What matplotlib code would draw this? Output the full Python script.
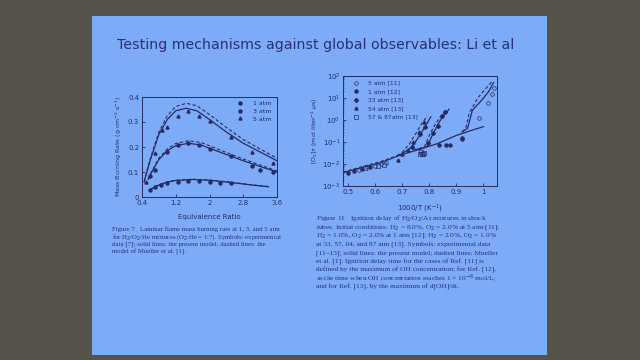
import matplotlib
matplotlib.use("Agg")
import matplotlib.pyplot as plt
from matplotlib.patches import Rectangle
from matplotlib.ticker import LogLocator

# ---- colours
BG = "#55534a"
SLIDE = "#7eabf8"
INK = "#262c62"
TXT = "#2b3170"

title = "Testing mechanisms against global observables: Li et al"

# ---- left panel: mass burning rate vs equivalence ratio
phi_1atm = [0.6, 0.7, 0.85, 1.0, 1.25, 1.5, 1.75, 2.0, 2.25, 2.5]
mbr_1atm = [0.030, 0.040, 0.050, 0.055, 0.062, 0.065, 0.065, 0.062, 0.058, 0.055]
phi_3atm = [0.6, 0.7, 1.0, 1.25, 1.5, 1.75, 2.0, 2.5, 3.0, 3.2, 3.5]
mbr_3atm = [0.085, 0.110, 0.180, 0.208, 0.215, 0.208, 0.192, 0.165, 0.125, 0.110, 0.100]
phi_5atm = [0.5, 0.7, 0.87, 1.0, 1.25, 1.5, 1.75, 2.0, 2.5, 3.0, 3.5]
mbr_5atm = [0.062, 0.177, 0.270, 0.280, 0.325, 0.345, 0.325, 0.305, 0.240, 0.180, 0.135]

phi_model = [0.45, 0.6, 0.8, 1.0, 1.2, 1.45, 1.7, 2.0, 2.4, 2.8, 3.2, 3.6]
model_5atm = [0.060, 0.150, 0.250, 0.310, 0.345, 0.355, 0.345, 0.310, 0.260, 0.215, 0.180, 0.145]
mueller_5atm = [0.062, 0.155, 0.260, 0.325, 0.362, 0.375, 0.365, 0.330, 0.278, 0.230, 0.192, 0.155]
phi_model3 = [0.55, 0.6, 0.8, 1.0, 1.2, 1.5, 1.8, 2.0, 2.4, 2.8, 3.2, 3.6]
model_3atm = [0.070, 0.090, 0.150, 0.185, 0.205, 0.215, 0.208, 0.195, 0.170, 0.145, 0.122, 0.100]
mueller_3atm = [0.072, 0.093, 0.155, 0.192, 0.214, 0.225, 0.218, 0.205, 0.178, 0.152, 0.128, 0.104]
phi_model1 = [0.6, 0.8, 1.0, 1.2, 1.6, 2.0, 2.4, 2.8, 3.1, 3.4]
model_1atm = [0.030, 0.048, 0.060, 0.066, 0.070, 0.067, 0.060, 0.052, 0.046, 0.041]
mueller_1atm = [0.031, 0.049, 0.061, 0.067, 0.071, 0.068, 0.061, 0.053, 0.047, 0.042]

# ---- right panel: ignition delay vs 1000/T
base_x = [0.48, 0.55, 0.62, 0.69, 0.76, 0.83, 0.90, 0.95, 1.00]
base_y = [4.0e-3, 7.0e-3, 1.15e-2, 2.5e-2, 4.5e-2, 8.5e-2, 2.0e-1, 3.2e-1, 5.0e-1]
base_dx = [0.48, 0.55, 0.62, 0.69]
base_dy = [4.3e-3, 7.5e-3, 1.3e-2, 2.6e-2]
b1_x = [0.69, 0.70, 0.737, 0.762, 0.784, 0.805]
b1_y = [2.5e-2, 3.0e-2, 6.2e-2, 0.186, 0.50, 1.4]
b1_dx = [0.68, 0.70, 0.725, 0.750, 0.772, 0.792]
b1_dy = [2.4e-2, 3.5e-2, 8.0e-2, 0.25, 0.70, 1.5]
b2_x = [0.75, 0.775, 0.793, 0.811, 0.830, 0.848, 0.873]
b2_y = [0.045, 0.052, 0.066, 0.21, 0.59, 1.4, 3.1]
b2_dx = [0.74, 0.765, 0.783, 0.800, 0.820, 0.840, 0.862]
b2_dy = [0.045, 0.052, 0.066, 0.21, 0.59, 1.4, 3.1]
b3_x = [0.921, 0.941, 0.959, 0.994, 1.019, 1.037]
b3_y = [0.285, 0.42, 2.8, 8.1, 19.5, 50.0]
b3_dx = [0.921, 0.935, 0.947, 0.978, 1.009, 1.031]
b3_dy = [0.285, 0.45, 2.0, 9.8, 27.5, 55.0]

x_5atm = [1.015, 1.030, 0.985, 1.038, 0.54, 0.57, 0.60, 0.62, 0.64]
y_5atm = [5.8, 16.0, 1.2, 30.0, 5.5e-3, 7.5e-3, 8.5e-3, 1.0e-2, 1.1e-2]
x_1atm = [0.836, 0.860, 0.876, 0.920, 0.922, 0.50, 0.52, 0.55, 0.58]
y_1atm = [0.072, 0.075, 0.075, 0.15, 0.13, 4.0e-3, 4.6e-3, 6.0e-3, 7.0e-3]
x_33atm = [0.735, 0.764, 0.785, 0.795, 0.812, 0.830, 0.845, 0.857]
y_33atm = [0.060, 0.22, 0.50, 0.09, 0.25, 0.55, 1.5, 2.2]
x_54atm = [0.682, 0.70, 0.72, 0.74, 0.76, 0.78]
y_54atm = [0.016, 0.030, 0.045, 0.10, 0.30, 0.80]
x_87atm = [0.765, 0.770, 0.775, 0.780, 0.772, 0.56, 0.61, 0.63]
y_87atm = [0.030, 0.035, 0.030, 0.033, 0.028, 6.5e-3, 8.0e-3, 9.0e-3]

cap7 = ["Figure 7   Laminar flame mass burning rate at 1, 3, and 5 atm",
        "for H$_2$/O$_2$/He mixtures (O$_2$:He = 1:7). Symbols: experimental",
        "data [7]; solid lines: the present model; dashed lines: the",
        "model of Mueller et al. [1]."]
cap11 = ["Figure 11   Ignition delay of H$_2$/O$_2$/Ar mixtures in shock",
         "tubes. Initial conditions: H$_2$ = 8.0%, O$_2$ = 2.0% at 5 atm [11];",
         "H$_2$ = 1.0%, O$_2$ = 2.0% at 1 atm [12]; H$_2$ = 2.0%, O$_2$ = 1.0%",
         "at 33, 57, 64, and 87 atm [13]. Symbols: experimental data",
         "[11\u201313]; solid lines: the present model; dashed lines: Mueller",
         "et al. [1]. Ignition delay time for the cases of Ref. [11] is",
         "defined by the maximum of OH concentration; for Ref. [12],",
         "as the time when OH concentration reaches 1 \u00d7 10$^{-6}$ mol/L;",
         "and for Ref. [13], by the maximum of d[OH]/dt."]

fig = plt.figure(figsize=(6.4, 3.6), dpi=100, facecolor=BG)
fig.patches.append(Rectangle((92/640, 1-355/360), 455/640, 339/360,
                             transform=fig.transFigure, facecolor=SLIDE,
                             edgecolor="none", zorder=-10))
fig.text(316/640, 1-45/360, title, ha="center", va="center", fontsize=10.2,
         color=TXT, family="DejaVu Sans", fontweight="medium")


def style(ax):
    ax.set_facecolor("none")
    ax.set_zorder(2)
    for s in ax.spines.values():
        s.set_color(INK)
        s.set_linewidth(0.7)
    ax.tick_params(direction="in", length=2, width=0.6, labelsize=5,
                   colors=INK, pad=2)
    ax.tick_params(which="minor", direction="in", length=1, width=0.4,
                   colors=INK)


# left
ax1 = fig.add_axes([142/640, 1-197/360, 135/640, 100/360])
style(ax1)
ms = 2.2
ax1.plot(phi_model, model_5atm, color=INK, lw=0.9)
ax1.plot(phi_model, mueller_5atm, color=INK, lw=0.8, ls=(0, (3, 2)))
ax1.plot(phi_model3, model_3atm, color=INK, lw=0.9)
ax1.plot(phi_model3, mueller_3atm, color=INK, lw=0.8, ls=(0, (3, 2)))
ax1.plot(phi_model1, model_1atm, color=INK, lw=0.9)
ax1.plot(phi_model1, mueller_1atm, color=INK, lw=0.8, ls=(0, (3, 2)))
ax1.plot(phi_1atm, mbr_1atm, "o", color=INK, ms=ms, label="1 atm")
ax1.plot(phi_3atm, mbr_3atm, "o", color=INK, ms=ms, label="3 atm")
ax1.plot(phi_5atm, mbr_5atm, "^", color=INK, ms=ms, label="5 atm")
ax1.set_xlim(0.4, 3.6)
ax1.set_ylim(0, 0.4)
ax1.set_xticks([0.4, 1.2, 2, 2.8, 3.6])
ax1.set_xticklabels(["0.4", "1.2", "2", "2.8", "3.6"])
ax1.set_yticks([0, 0.1, 0.2, 0.3, 0.4])
ax1.set_yticklabels(["0", "0.1", "0.2", "0.3", "0.4"])
ax1.set_xlabel("Equivalence Ratio", fontsize=5, color=INK, labelpad=6)
ax1.set_ylabel("Mass Burning Rate (g cm$^{-2}$ s$^{-1}$)", fontsize=4.5,
               color=INK, labelpad=3)
leg1 = ax1.legend(loc="upper right", frameon=False, fontsize=4.5,
                  handlelength=1.5, handletextpad=1.4, labelspacing=0.4,
                  borderaxespad=0.0, bbox_to_anchor=(0.98, 0.99))
for t in leg1.get_texts():
    t.set_color(INK)

# right
ax2 = fig.add_axes([343/640, 1-186/360, 154/640, 110/360])
style(ax2)
ax2.set_yscale("log")
ax2.plot(base_x, base_y, color=INK, lw=0.9)
ax2.plot(base_dx, base_dy, color=INK, lw=0.8, ls=(0, (3, 2)))
for (sx, sy, dx, dy) in [(b1_x, b1_y, b1_dx, b1_dy), (b2_x, b2_y, b2_dx, b2_dy),
                         (b3_x, b3_y, b3_dx, b3_dy)]:
    ax2.plot(sx, sy, color=INK, lw=0.9)
    ax2.plot(dx, dy, color=INK, lw=0.8, ls=(0, (3, 2)))
ax2.plot(x_5atm, y_5atm, "o", mfc="none", mec=INK, mew=0.5, ms=2.6, label="5 atm [11]")
ax2.plot(x_1atm, y_1atm, "o", color=INK, ms=2.2, label="1 atm [12]")
ax2.plot(x_33atm, y_33atm, "D", color=INK, ms=2.0, label="33 atm [13]")
ax2.plot(x_54atm, y_54atm, "^", color=INK, ms=2.2, label="54 atm [13]")
ax2.plot(x_87atm, y_87atm, "s", mfc="none", mec=INK, mew=0.5, ms=2.4,
         label="57 & 87atm [13]")
ax2.set_xlim(0.48, 1.05)
ax2.set_ylim(1e-3, 1e2)
ax2.set_xticks([0.5, 0.6, 0.7, 0.8, 0.9, 1.0])
ax2.set_xticklabels(["0.5", "0.6", "0.7", "0.8", "0.9", "1"])
ax2.yaxis.set_major_locator(LogLocator(base=10, numticks=10))
ax2.set_xlabel("1000/T (K$^{-1}$)", fontsize=5, color=INK, labelpad=6)
ax2.set_ylabel(r"[O$_2$]$\tau$ (mol liter$^{-1}$ $\mu$s)", fontsize=4.5,
               color=INK, labelpad=2)
leg2 = ax2.legend(loc="upper left", frameon=False, fontsize=4.3,
                  handlelength=1.5, handletextpad=1.2, labelspacing=0.55,
                  borderaxespad=0.0, bbox_to_anchor=(0.04, 0.98))
for t in leg2.get_texts():
    t.set_color(INK)

# captions
for i, line in enumerate(cap7):
    fig.text(112/640, 1-(229 + 7.7*i)/360, line, ha="left", va="center",
             fontsize=4.9, color=TXT, family="Liberation Serif")
for i, line in enumerate(cap11):
    fig.text(316/640, 1-(219 + 8.5*i)/360, line, ha="left", va="center",
             fontsize=5.35, color=TXT, family="Liberation Serif")

fig.savefig("out.png", dpi=100, facecolor=BG)
